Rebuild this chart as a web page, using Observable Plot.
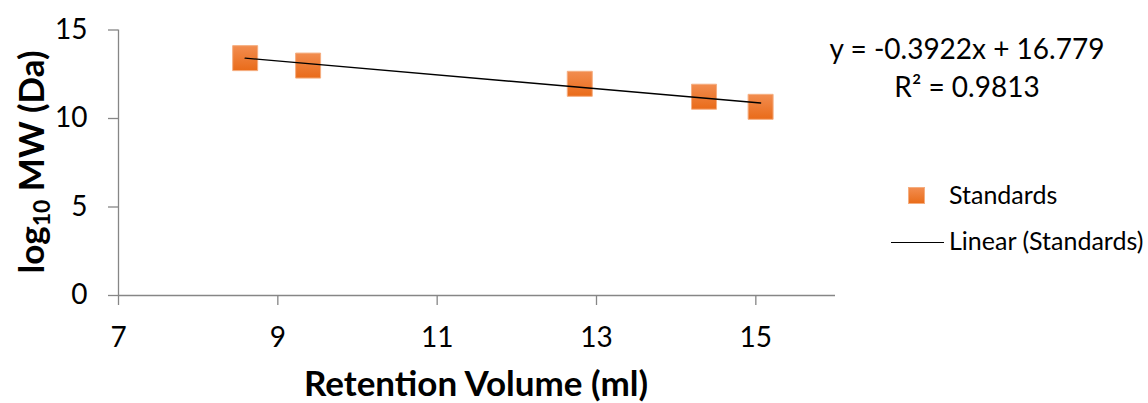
<!DOCTYPE html>
<html>
<head>
<meta charset="utf-8">
<script src="https://cdn.jsdelivr.net/npm/d3@7"></script>
<script src="https://cdn.jsdelivr.net/npm/@observablehq/plot@0.6"></script>
<style>
  html, body { margin: 0; padding: 0; background: #fff; }
  #wrap { position: relative; width: 1148px; height: 403px; font-family: Lato, "Open Sans", sans-serif; color: #000; overflow: hidden; }
  #wrap svg { position: absolute; left: 0; top: 0; }
  .ov { position: absolute; white-space: nowrap; line-height: 1; }
  #ytitle { left: 30px; top: 162px; transform: translate(-50%, -50%) rotate(-90deg); font-weight: 700; font-size: 35px; }
  #ytitle sub { font-size: 23px; vertical-align: -0.3em; line-height: 0; }
  #xtitle { left: 476px; top: 367px; line-height: 30px; transform: translateX(-50%); font-weight: 700; font-size: 35px; }
  .eq { font-size: 28px; transform: translateX(-50%); left: 967px; }
  .leg { font-size: 25px; left: 949px; }
  .legsq { position: absolute; left: 908px; top: 187px; width: 17px; height: 17px; box-sizing: border-box; background: linear-gradient(#F28C4E, #E96D1B); border: 1px solid #F5AE80; }
  .legline { position: absolute; left: 891px; top: 242px; width: 53px; height: 0; border-top: 1.3px solid #000; }
</style>
</head>
<body>
<div id="wrap"></div>
<script>
// Data
const retentionVolume = [8.59, 9.38, 12.79, 14.35, 15.06];
const log10MW = [13.41, 12.99, 11.96, 11.23, 10.66];
const trendSlope = -0.3922;
const trendIntercept = 16.779;
const rSquared = 0.9813;
const xTicks = [7, 9, 11, 13, 15];
const yTicks = [0, 5, 10, 15];
const seriesName = "Standards";
const trendName = "Linear (Standards)";

const points = retentionVolume.map((x, i) => ({x, y: log10MW[i]}));
const xMin = d3.min(retentionVolume), xMax = d3.max(retentionVolume);
const trend = [xMin, xMax].map(x => ({x, y: trendSlope * x + trendIntercept}));

const axisColor = "#868686";

function gradientDefs() {
  const ns = "http://www.w3.org/2000/svg";
  const defs = document.createElementNS(ns, "defs");
  const g = document.createElementNS(ns, "linearGradient");
  g.setAttribute("id", "orangeGrad");
  g.setAttribute("x1", "0"); g.setAttribute("y1", "0");
  g.setAttribute("x2", "0"); g.setAttribute("y2", "1");
  [["0%", "#F28D50"], ["100%", "#E96B19"]].forEach(([o, c]) => {
    const s = document.createElementNS(ns, "stop");
    s.setAttribute("offset", o); s.setAttribute("stop-color", c);
    g.appendChild(s);
  });
  defs.appendChild(g);
  return defs;
}

const chart = Plot.plot({
  width: 1148,
  height: 403,
  marginLeft: 118,
  marginRight: 313,
  marginTop: 29.5,
  marginBottom: 108,
  style: { fontFamily: "Lato, 'Open Sans', sans-serif", fontSize: "28px", color: "#000", background: "transparent" },
  x: { domain: [7, 16] },
  y: { domain: [0, 15] },
  marks: [
    gradientDefs,
    Plot.ruleY([0], { stroke: axisColor, strokeWidth: 1.3 }),
    Plot.ruleX([7], { stroke: axisColor, strokeWidth: 1.3 }),
    Plot.axisX({ ticks: xTicks, tickSize: 10, tickPadding: 22, stroke: axisColor, strokeWidth: 1.3, fill: "#000", label: null, fontSize: 28 }),
    Plot.axisY({ ticks: yTicks, tickSize: 10, tickPadding: 21, stroke: axisColor, strokeWidth: 1.3, fill: "#000", label: null, fontSize: 28 }),
    Plot.dot(points, { x: "x", y: "y", symbol: "square", r: 14.1, fill: "url(#orangeGrad)", stroke: "#F5AE80", strokeWidth: 1 }),
    Plot.line(trend, { x: "x", y: "y", stroke: "#000", strokeWidth: 1.4 })
  ]
});

const wrap = document.getElementById("wrap");
wrap.appendChild(chart);

function addDiv(cls, html, style) {
  const d = document.createElement("div");
  d.className = cls;
  d.innerHTML = html;
  if (style) Object.assign(d.style, style);
  wrap.appendChild(d);
  return d;
}
addDiv("ov", "log<sub>10</sub> MW (Da)", {}).id = "ytitle";
addDiv("ov", "Retention Volume (ml)", {}).id = "xtitle";
addDiv("ov eq", `y = ${trendSlope}x + ${trendIntercept}`, { top: "34px" });
addDiv("ov eq", `R² = ${rSquared}`, { top: "72px" });
addDiv("legsq", "", {});
addDiv("ov leg", seriesName, { top: "182px" });
addDiv("legline", "", {});
addDiv("ov leg", trendName, { top: "228px" });
</script>
</body>
</html>
